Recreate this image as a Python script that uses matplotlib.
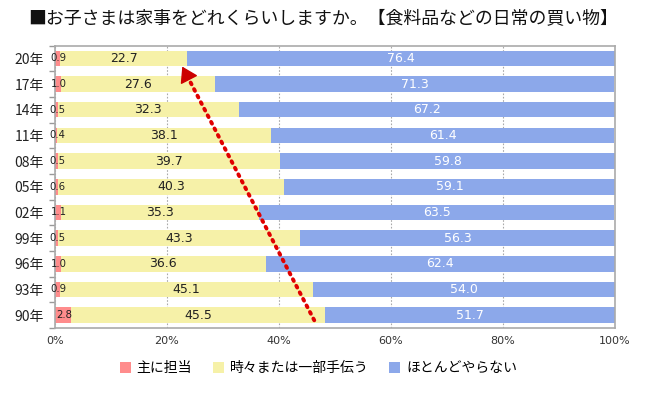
import matplotlib
matplotlib.use("Agg")
import matplotlib.pyplot as plt
from matplotlib.ticker import FixedLocator

plt.rcParams['font.family'] = ['Noto Sans CJK JP', 'DejaVu Sans']

years = ['20年', '17年', '14年', '11年', '08年', '05年', '02年', '99年', '96年', '93年', '90年']
main_role = [0.9, 1.0, 0.5, 0.4, 0.5, 0.6, 1.1, 0.5, 1.0, 0.9, 2.8]
sometimes = [22.7, 27.6, 32.3, 38.1, 39.7, 40.3, 35.3, 43.3, 36.6, 45.1, 45.5]
rarely = [76.4, 71.3, 67.2, 61.4, 59.8, 59.1, 63.5, 56.3, 62.4, 54.0, 51.7]
series_names = ['主に担当', '時々または一部手伝う', 'ほとんどやらない']
x_ticks = [0, 20, 40, 60, 80, 100]

# trend arrow (data units: percent, category index)
arrow_start = (46.3, 10.2)
arrow_end = (22.5, 0.22)

RED = '#FF8C8C'
YELLOW = '#F6F1A8'
BLUE = '#8CA8EA'
NUM_FONT = 'DejaVu Sans'

fig = plt.figure(figsize=(6.5, 3.96), dpi=100)
ax = fig.add_axes([0.0846, 0.1717, 0.8615, 0.7131])

pos = list(range(len(years)))
h = 0.6
left2 = main_role
left3 = [a + b for a, b in zip(main_role, sometimes)]
ax.barh(pos, main_role, height=h, color=RED, label=series_names[0], zorder=2)
ax.barh(pos, sometimes, left=left2, height=h, color=YELLOW, label=series_names[1], zorder=2)
ax.barh(pos, rarely, left=left3, height=h, color=BLUE, label=series_names[2], zorder=2)

for i in pos:
    ax.text(main_role[i] / 2 + 0.2, i, f'{main_role[i]:.1f}', ha='center', va='center',
            fontsize=7.3, family=NUM_FONT, color='#222222', zorder=3)
    ax.text(left2[i] + sometimes[i] / 2, i, f'{sometimes[i]:.1f}', ha='center', va='center',
            fontsize=9, family=NUM_FONT, color='#222222', zorder=3)
    ax.text(left3[i] + rarely[i] / 2, i, f'{rarely[i]:.1f}', ha='center', va='center',
            fontsize=9, family=NUM_FONT, color='white', zorder=3)

ax.set_xlim(0, 100)
ax.set_ylim(len(years) - 0.5, -0.5)
ax.set_xticks(x_ticks)
ax.set_xticklabels([f'{t}%' for t in x_ticks], family=NUM_FONT, fontsize=8, color='#333333')
ax.tick_params(axis='x', length=0, pad=6)
ax.set_yticks(pos)
ax.set_yticklabels(years, fontsize=10, color='#222222')
ax.tick_params(axis='y', which='major', length=0, pad=8)
ax.yaxis.set_minor_locator(FixedLocator([p - 0.5 for p in pos] + [len(years) - 0.5]))
ax.tick_params(axis='y', which='minor', length=4, color='#999999', width=1)

ax.xaxis.grid(True, linestyle=(0, (1.5, 1.5)), color='#aaaaaa', linewidth=0.8, zorder=0)
ax.set_axisbelow(True)
for s in ax.spines.values():
    s.set_color('#aaaaaa')
    s.set_linewidth(1.2)

# dotted trend line with arrowhead
ax.plot([arrow_start[0], arrow_end[0] + 1.2], [arrow_start[1], arrow_end[1] + 0.5],
        color='#E00000', linewidth=2.8, linestyle=(0, (0.5, 1.4)),
        solid_capstyle='round', dash_capstyle='round', zorder=4)
ax.annotate('', xy=arrow_end, xytext=(arrow_end[0] + 1.3, arrow_end[1] + 0.55),
            arrowprops=dict(arrowstyle='-|>,head_length=0.95,head_width=0.6',
                            color='#CC0000', lw=1), zorder=5)

fig.text(0.043, 0.955, '■お子さまは家事をどれくらいしますか。【食料品などの日常の買い物】',
         fontsize=12.9, va='center', ha='left', color='#111111')

fig.legend(loc='center', bbox_to_anchor=(0.49, 0.07), ncol=3, frameon=False,
           fontsize=10, handlelength=0.8, handleheight=0.8, handletextpad=0.4,
           columnspacing=1.5)

fig.savefig('out.png', dpi=100)
